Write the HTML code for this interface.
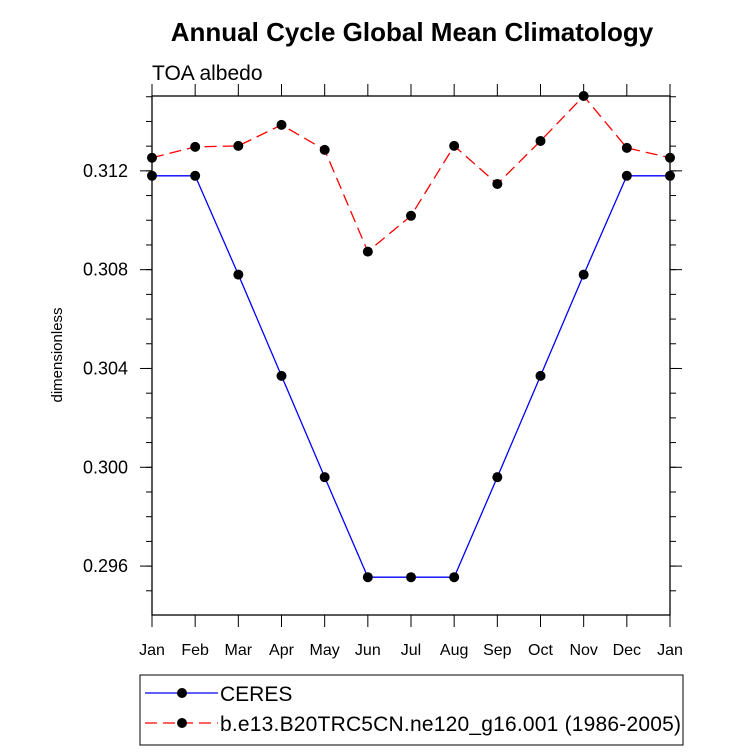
<!DOCTYPE html>
<html><head><meta charset="utf-8"><style>
body{margin:0;background:#fff;}
svg text{font-family:"Liberation Sans",sans-serif;}
</style></head><body>
<svg id="chart" width="733" height="751" xmlns="http://www.w3.org/2000/svg">
<text x="412" y="41" text-anchor="middle" font-size="26" font-weight="bold">Annual Cycle Global Mean Climatology</text>
<text x="152" y="80" font-size="21">TOA albedo</text>
<text transform="translate(62,355) rotate(-90)" text-anchor="middle" font-size="15">dimensionless</text>
<g id="axes"></g><g id="series"></g>
<g>
<rect x="140" y="675" width="543" height="70" fill="none" stroke="#000" stroke-width="1"/>
<line x1="145" y1="693" x2="218" y2="693" stroke="#0000ff" stroke-width="1.2"/>
<circle cx="182" cy="693" r="5" fill="#000"/>
<text x="220" y="701" font-size="21">CERES</text>
<line x1="145" y1="723" x2="218" y2="723" stroke="#ff0000" stroke-width="1.2" stroke-dasharray="12,6"/>
<circle cx="182" cy="723" r="5" fill="#000"/>
<text x="220" y="731" font-size="21" textLength="461">b.e13.B20TRC5CN.ne120_g16.001 (1986-2005)</text>
</g>
</svg>
<script>
const months=["Jan","Feb","Mar","Apr","May","Jun","Jul","Aug","Sep","Oct","Nov","Dec","Jan"];
const ceres=[0.3118,0.3118,0.3078,0.3037,0.2996,0.29555,0.29555,0.29555,0.2996,0.3037,0.3078,0.3118,0.3118];
const model=[0.31253,0.31297,0.31301,0.31386,0.31285,0.30873,0.31018,0.31301,0.31147,0.31321,0.31503,0.31293,0.31253];
const yTicks=["0.296","0.300","0.304","0.308","0.312"];
const L=152,R=670,T=96,B=615,ymin=0.29402,ymax=0.31503;
const xs=i=>L+(R-L)*i/(months.length-1);
const ys=v=>B-(v-ymin)/(ymax-ymin)*(B-T);
const NS="http://www.w3.org/2000/svg";
function mk(t,a,p){const e=document.createElementNS(NS,t);for(const k in a)e.setAttribute(k,a[k]);p.appendChild(e);return e;}
const ax=document.getElementById('axes'),sr=document.getElementById('series');
const fr=mk('rect',{x:L,y:T,width:R-L,height:B-T,fill:'none',stroke:'#000','stroke-width':1.3},ax);


months.forEach((m,i)=>{const x=xs(i);
mk('line',{x1:x,y1:B,x2:x,y2:B+12,stroke:'#000'},ax);mk('line',{x1:x,y1:T,x2:x,y2:T-12,stroke:'#000'},ax);
const t=mk('text',{x:x,y:B+40,'text-anchor':'middle','font-size':16},ax);t.textContent=m;

});
for(let v=0.295;v<=0.315;v+=0.001){const y=ys(v);if(y<T||y>B)continue;
mk('line',{x1:L,y1:y,x2:L-6,y2:y,stroke:'#000'},ax);mk('line',{x1:R,y1:y,x2:R+6,y2:y,stroke:'#000'},ax);}
yTicks.forEach(s=>{const y=ys(parseFloat(s));
mk('line',{x1:L,y1:y,x2:L-12,y2:y,stroke:'#000'},ax);mk('line',{x1:R,y1:y,x2:R+12,y2:y,stroke:'#000'},ax);
const t=mk('text',{x:L-24,y:y+6,'text-anchor':'end','font-size':18},ax);t.textContent=s;

});
function series(arr,col,dash,name){
const p=mk('polyline',{points:arr.map((v,i)=>xs(i)+','+ys(v)).join(' '),fill:'none',stroke:col,'stroke-width':1.3,'stroke-dasharray':dash},sr);


arr.forEach((v,i)=>{const c=mk('circle',{cx:xs(i),cy:ys(v),r:5,fill:'#000'},sr);

});}
series(ceres,'#0000ff','none','ceres');
series(model,'#ff0000','12,6','model');
</script>
</body></html>
